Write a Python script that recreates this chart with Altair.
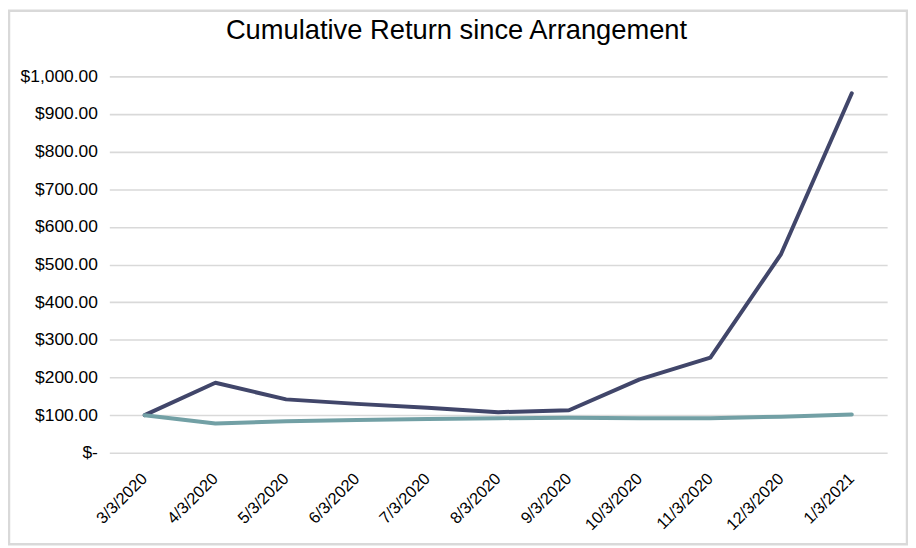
import altair as alt
import pandas as pd

dates = ["3/3/2020", "4/3/2020", "5/3/2020", "6/3/2020", "7/3/2020", "8/3/2020",
         "9/3/2020", "10/3/2020", "11/3/2020", "12/3/2020", "1/3/2021"]
series_a = [100, 186, 142, 130, 120, 108, 113, 195, 253, 528, 955]
series_b = [100, 78, 84, 87, 90, 92, 93, 92, 92, 96, 102]
y_ticks = [0, 100, 200, 300, 400, 500, 600, 700, 800, 900, 1000]

rows = []
for d, a, b in zip(dates, series_a, series_b):
    rows.append({"date": d, "series": "A", "value": a})
    rows.append({"date": d, "series": "B", "value": b})
df = pd.DataFrame(rows)

label_expr = "datum.value == 0 ? '$-' : '$' + format(datum.value, ',.2f')"

base = alt.Chart(df)

lines = base.mark_line(strokeWidth=4, strokeCap="round", strokeJoin="round").encode(
    x=alt.X("date:N", sort=dates, title=None,
            scale=alt.Scale(paddingInner=0, paddingOuter=0, type="band"),
            axis=alt.Axis(labelAngle=-45, labelAlign="right", labelBaseline="middle",
                          labelFontSize=16.5, labelFont="Liberation Sans", labelColor="#000000",
                          labelPadding=23, ticks=False, domain=False, grid=False,
                          labelOverlap=False, labelBound=False)),
    y=alt.Y("value:Q", title=None,
            scale=alt.Scale(domain=[0, 1000], nice=False),
            axis=alt.Axis(values=y_ticks, labelExpr=label_expr, labelFontSize=17.5,
                          labelFont="Liberation Sans", labelColor="#000000",
                          labelPadding=12, ticks=False, domain=False,
                          gridColor="#d9d9d9", gridWidth=1.6)),
    color=alt.Color("series:N", legend=None,
                    scale=alt.Scale(domain=["A", "B"], range=["#41466a", "#72a0a5"])),
    order=alt.Order("series:N", sort="descending"),
)

frame = alt.Chart(pd.DataFrame({"f": [0]})).mark_rect(
    fill=None, stroke="#d9d9d9", strokeWidth=2.5, clip=False
).encode(
    x=alt.value(-101), x2=alt.value(803), y=alt.value(-66), y2=alt.value(471)
)

chart = alt.layer(frame, lines).properties(
    width=783,
    height=379,
    autosize=alt.AutoSizeParams(type="none"),
    padding={"left": 102, "top": 67, "right": 21, "bottom": 92},
    title=alt.TitleParams("Cumulative Return since Arrangement", fontSize=27.5,
                          font="Liberation Sans", fontWeight="normal", color="#000000",
                          anchor="middle", dx=-42, offset=-35),
).configure_view(stroke=None)

chart.save("out.html", embed_options={"renderer": "svg", "actions": False})
